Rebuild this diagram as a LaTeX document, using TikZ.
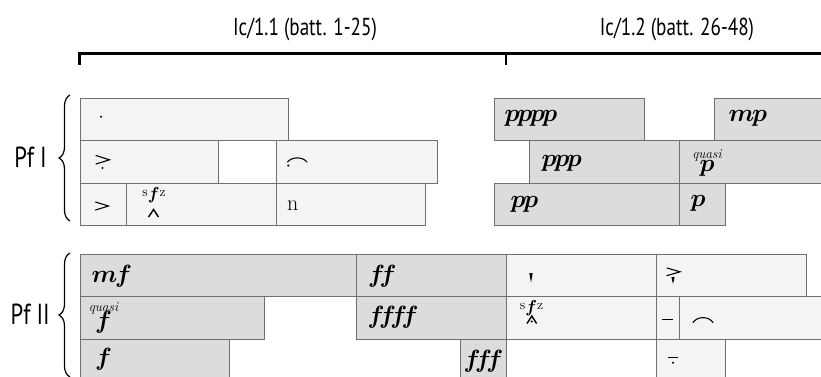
\documentclass[tikz,border=0pt]{standalone}
\usepackage{fontspec}
\usetikzlibrary{decorations.pathreplacing}
\newfontfamily\labfont[FakeStretch=0.78]{PT Sans}
\definecolor{lightbox}{HTML}{F4F4F4}
\definecolor{darkbox}{HTML}{DCDCDC}
\definecolor{edgegray}{HTML}{707070}
\begin{document}
\begin{tikzpicture}[x=1pt,y=-1pt,
  lt/.style={fill=lightbox,draw=edgegray,line width=0.9pt},
  dk/.style={fill=darkbox,draw=edgegray,line width=0.9pt},
  wt/.style={fill=white,draw=edgegray,line width=0.9pt},
  dyn/.style={inner sep=0pt,anchor=base west,font=\fontsize{23}{23}\selectfont\boldmath},
  rom/.style={inner sep=0pt,anchor=base west,font=\fontsize{22}{22}\selectfont},
  sfztxt/.style={inner sep=0pt,anchor=base},
  title/.style={inner sep=0pt,font=\labfont\fontsize{24.5}{24.5}\selectfont},
  pflabel/.style={inner sep=0pt,anchor=east,font=\labfont\fontsize{29}{29}\selectfont},
  art/.style={line width=1.1pt,line cap=round},
  hdr/.style={line width=2.4pt},
  mybrace/.style={decorate,decoration={brace,amplitude=11pt,aspect=0.5},line width=1.2pt}
]
\useasboundingbox (0,0) rectangle (821,376);
\clip (0,0) rectangle (821,376);
\newcommand{\sfzmark}{\raisebox{3pt}{\fontsize{14}{14}\selectfont s}{\fontsize{19}{19}\selectfont\boldmath$f$}\raisebox{3pt}{\fontsize{14}{14}\selectfont z}}
\newcommand{\kp}{\mkern-1.5mu}
\newcommand{\kf}{\mkern-3.5mu}
\newcommand{\quasiover}[2]{\setbox0=\hbox{#2}\rlap{\hbox to \wd0{\hss\raisebox{#1}{\fontsize{13.5}{13.5}\selectfont\itshape\unboldmath quasi}\hss}}\box0}
% header
\node[title] (t1) at (305,29) {Ic/1.1 (batt. 1-25)};
\node[title] (t2) at (677,29) {Ic/1.2 (batt. 26-48)};
\coordinate (h0) at (79.5,53.5);
\coordinate (h1) at (823,53.5);
\coordinate (h0b) at (79.5,65);
\coordinate (hm) at (506,53.5);
\coordinate (hmb) at (506,65);
\draw[hdr] (h0b) -- (h0) -- (h1);
\draw[hdr] (hm) -- (hmb);
% labels and braces
\node[pflabel] (pf1) at (47,157.5) {Pf I};
\node[pflabel] (pf2) at (50,314) {Pf II};
\coordinate (b1a) at (70,221);
\coordinate (b1b) at (70,95);
\coordinate (b2a) at (70,377);
\coordinate (b2b) at (70,253);
\draw[mybrace] (b1a) -- (b1b);
\draw[mybrace] (b2a) -- (b2b);
% Pf I boxes
\path[lt] (80,98.5) rectangle (288,140.7);
\path[lt] (80,140.7) rectangle (218,183.2);
\path[wt] (218,140.7) rectangle (276,183.2);
\path[lt] (276,140.7) rectangle (437.5,183.2);
\path[lt] (80,183.2) rectangle (126,225.6);
\path[lt] (126,183.2) rectangle (276,225.6);
\path[lt] (276,183.2) rectangle (425.5,225.6);
\path[dk] (494.5,98.5) rectangle (644.5,140.7);
\path[dk] (714,98.5) rectangle (824,140.7);
\path[dk] (529.5,140.7) rectangle (679.5,183.2);
\path[dk] (679.5,140.7) rectangle (824,183.2);
\path[dk] (494.5,183.2) rectangle (679.5,225.6);
\path[dk] (679.5,183.2) rectangle (725.5,225.6);
% Pf II boxes
\path[dk] (80,254.3) rectangle (356.7,296.8);
\path[dk] (356.7,254.3) rectangle (506.5,296.8);
\path[lt] (506.5,254.3) rectangle (656,296.8);
\path[lt] (656,254.3) rectangle (806,296.8);
\path[dk] (80,296.8) rectangle (264.7,339.3);
\path[dk] (356.7,296.8) rectangle (506.5,339.3);
\path[lt] (506.5,296.8) rectangle (656,339.3);
\path[lt] (656,296.8) rectangle (679.5,339.3);
\path[lt] (679.5,296.8) rectangle (824,339.3);
\path[dk] (80,339.3) rectangle (229.3,382);
\path[dk] (460.3,339.3) rectangle (506.5,382);
\path[lt] (656,339.3) rectangle (725.5,382);
% Pf I marks
\fill (101,116.7) circle (1.2);
\draw[art] (96,155.5) -- (109.5,159.8) -- (96,164);
\fill (102.5,168) circle (1.2);
\draw[art] (287.5,162) .. controls (292,156.5) and (302.5,156.5) .. (307,162);
\fill (288.3,165.5) circle (1.2);
\draw[art] (95.5,202) -- (108.5,206) -- (95.5,210);
\node[sfztxt] (sfz1) at (154,199.5) {\sfzmark};
\draw[line width=1.4pt,line join=miter] (148.5,217) -- (153.5,209.5) -- (158.5,217);
\node[rom] (n1) at (287,210.5) {n};
% Pf I right dynamics
\node[dyn] (d1) at (504.5,121) {$p\kp p\kp p\kp p$};
\node[dyn] (d2) at (728.5,121) {$m\kp p$};
\node[dyn] (d3) at (541.5,166) {$p\kp p\kp p$};
\node[dyn,anchor=base] (d4) at (707,171) {\quasiover{13pt}{$p$}};
\node[dyn] (d5) at (510.5,207.5) {$p\kp p$};
\node[dyn] (d6) at (690.5,206.5) {$p$};
% Pf II dynamics
\node[dyn] (e1) at (91.5,282.5) {$m\kp f$};
\node[dyn] (e2) at (368,282.5) {$f\kf f$};
\node[dyn,anchor=base] (e3) at (103.5,328.5) {\quasiover{17.5pt}{$f$}};
\node[dyn] (e4) at (367.5,323.5) {$f\kf f\kf f\kf f$};
\node[dyn] (e5) at (95,365.5) {$f$};
\node[dyn] (e6) at (463.5,367.5) {$f\kf f\kf f$};
% Pf II marks
\fill (529.3,273) -- (532.7,273) -- (531,282.5) -- cycle;
\draw[art] (667,268) -- (680,271.8) -- (667,275.6);
\fill (671.4,277) -- (674.6,277) -- (673,284) -- cycle;
\node[sfztxt] (sfz2) at (531.5,312) {\sfzmark};
\draw[line width=1.4pt,line join=miter] (527,323.5) -- (531.8,316) -- (536.6,323.5);
\fill (531.8,321.5) circle (1.1);
\draw[line width=1.6pt] (662,319.5) -- (673,319.5);
\draw[art] (693,322.5) .. controls (697.5,316) and (708.5,316) .. (713,322.5);
\draw[line width=1.6pt] (668,357.3) -- (678,357.3);
\fill (673,362.7) circle (1.2);
\end{tikzpicture}
\end{document}
